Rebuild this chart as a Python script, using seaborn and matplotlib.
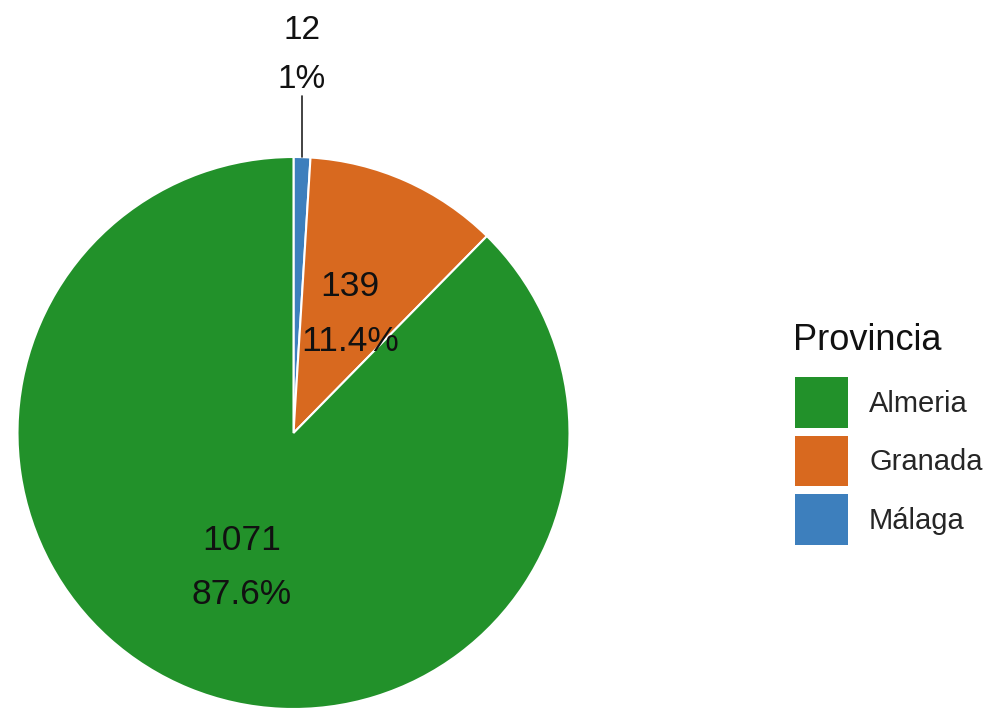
import matplotlib
matplotlib.use("Agg")
import matplotlib.pyplot as plt
from matplotlib.patches import Patch
import numpy as np
import seaborn as sns

provincias = ["Málaga", "Granada", "Almeria"]
conteos = [12, 139, 1071]
porcentajes = ["1%", "11.4%", "87.6%"]
legend_order = ["Almeria", "Granada", "Málaga"]

sns.set_theme(style="white")
plt.rcParams["font.family"] = ["Liberation Sans", "DejaVu Sans"]

colores = dict(zip(["Almeria", "Granada", "Málaga"],
                   sns.color_palette(["#22912a", "#d8691f", "#3d7fbd"])))

W, H = 985, 708
fig = plt.figure(figsize=(W / 100, H / 100), dpi=100)
cx, cy, R = 293.5, 433, 276
ax = fig.add_axes([(cx - R) / W, (H - cy - R) / H, 2 * R / W, 2 * R / H])

wedges, _ = ax.pie(conteos, colors=[colores[p] for p in provincias],
                   startangle=90, counterclock=False, radius=1,
                   wedgeprops=dict(edgecolor="white", linewidth=1.5))
ax.set_xlim(-1, 1)
ax.set_ylim(-1, 1)
ax.set_aspect("auto")
ax.axis("off")

total = sum(conteos)
inicio = 90.0
for nombre, n, pct in zip(provincias, conteos, porcentajes):
    ang = inicio - 360.0 * n / total / 2
    inicio -= 360.0 * n / total
    rad = np.deg2rad(ang)
    if n / total < 0.03:
        # small slice: label above the pie with a leader line
        x0 = np.cos(rad) * 1.0
        ax.plot([x0, x0], [1.0, 1.22], color="#222222", lw=1.2, clip_on=False)
        ax.text(x0, 1.37, f"{n}\n{pct}", ha="center", va="center",
                fontsize=24, linespacing=1.75, color="#111111", clip_on=False)
    else:
        ax.text(0.5 * np.cos(rad), 0.5 * np.sin(rad) - 0.025, f"{n}\n{pct}",
                ha="center", va="center", fontsize=25.5, linespacing=1.82,
                color="#111111")

fig.text(793 / W, 1 - 340 / H, "Provincia", fontsize=26, ha="left",
         va="center", color="#111111")
handles = [Patch(facecolor=colores[p], edgecolor="none") for p in legend_order]
leg = fig.legend(handles, legend_order,
                 loc="upper left", bbox_to_anchor=(795 / W, 1 - 377 / H),
                 frameon=False, fontsize=21,
                 handlelength=1.82, handleheight=2.31, labelspacing=0.26,
                 handletextpad=0.72, borderaxespad=0, borderpad=0)

fig.savefig("out.png", dpi=100)
